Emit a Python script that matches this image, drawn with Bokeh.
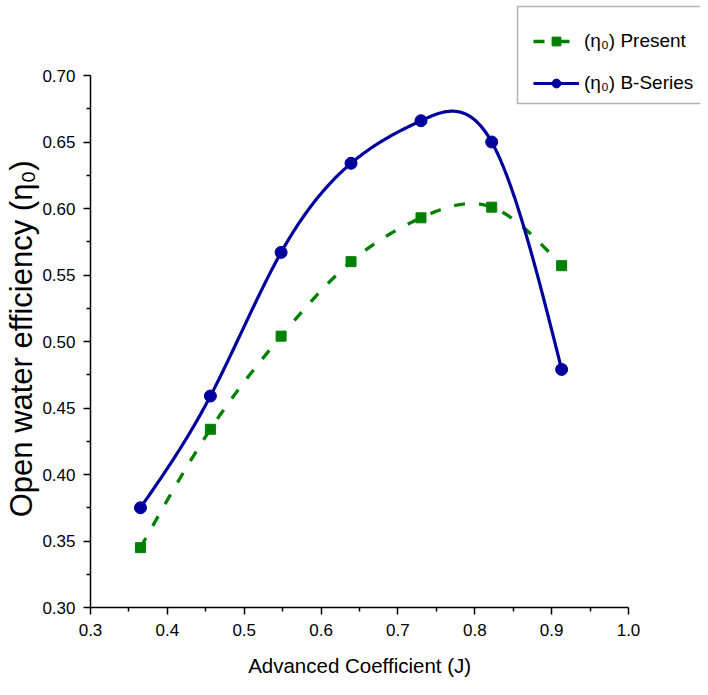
import numpy as np
from bokeh.plotting import figure
from bokeh.models import Legend, LegendItem, FixedTicker, NumeralTickFormatter, Range1d, BoxAnnotation
from bokeh.embed import file_html
from bokeh.resources import INLINE

# data
J = [0.365, 0.456, 0.548, 0.639, 0.730, 0.822, 0.913]
eta_present = [0.345, 0.434, 0.504, 0.560, 0.593, 0.601, 0.557]
eta_bseries = [0.375, 0.459, 0.567, 0.634, 0.666, 0.650, 0.479]
x_ticks = [0.3, 0.4, 0.5, 0.6, 0.7, 0.8, 0.9, 1.0]
x_minor = [0.35, 0.45, 0.55, 0.65, 0.75, 0.85, 0.95]
y_ticks = [0.30, 0.35, 0.40, 0.45, 0.50, 0.55, 0.60, 0.65, 0.70]
y_minor = [0.325, 0.375, 0.425, 0.475, 0.525, 0.575, 0.625, 0.675]

FONT = "Liberation Sans"
GREEN = "#008000"
BLUE = "#00009c"


def natural_spline(x, y, n=300):
    x = np.asarray(x, float); y = np.asarray(y, float)
    k = len(x); h = np.diff(x)
    A = np.zeros((k, k)); b = np.zeros(k)
    A[0, 0] = A[-1, -1] = 1
    for i in range(1, k - 1):
        A[i, i - 1] = h[i - 1]; A[i, i] = 2 * (h[i - 1] + h[i]); A[i, i + 1] = h[i]
        b[i] = 3 * ((y[i + 1] - y[i]) / h[i] - (y[i] - y[i - 1]) / h[i - 1])
    c = np.linalg.solve(A, b)
    xs = np.linspace(x[0], x[-1], n); ys = np.empty_like(xs)
    for j, t in enumerate(xs):
        i = min(np.searchsorted(x, t, side="right") - 1, k - 2)
        d = t - x[i]
        bb = (y[i + 1] - y[i]) / h[i] - h[i] * (2 * c[i] + c[i + 1]) / 3
        dd = (c[i + 1] - c[i]) / (3 * h[i])
        ys[j] = y[i] + bb * d + c[i] * d * d + dd * d ** 3
    return xs, ys


W, H = 700, 690
LEFT, BOTTOM, TOP70 = 90, 83, 75
px_x = 538 / 0.7
px_y = 532 / 0.4
x_end = 0.3 + (W - LEFT) / px_x
y_end = 0.70 + TOP70 / px_y


def sx(px):   # pixel column -> data x (layout helper)
    return 0.3 + (px - LEFT) / px_x


def sy(py):   # pixel row -> data y (layout helper)
    return 0.70 + (TOP70 - py) / px_y


p = figure(width=W, height=H, output_backend="svg", toolbar_location=None,
           x_range=Range1d(0.3, x_end), y_range=Range1d(0.30, y_end),
           min_border_left=LEFT, min_border_right=0, min_border_top=0, min_border_bottom=BOTTOM)
p.xgrid.visible = False
p.ygrid.visible = False
p.outline_line_color = None
p.background_fill_color = "white"

xs, ys = natural_spline(J, eta_present)
l1 = p.line(xs, ys, line_color=GREEN, line_width=3.3, line_dash="11 14")
s1 = p.scatter(J, eta_present, marker="square", size=10, color=GREEN)
xs2, ys2 = natural_spline(J, eta_bseries)
l2 = p.line(xs2, ys2, line_color=BLUE, line_width=3.2)
s2 = p.scatter(J, eta_bseries, marker="circle", size=12, color=BLUE)

p.xaxis[0].ticker = FixedTicker(ticks=x_ticks, minor_ticks=x_minor)
p.yaxis[0].ticker = FixedTicker(ticks=y_ticks, minor_ticks=y_minor)
p.xaxis[0].bounds = (0.3, 1.0)
p.yaxis[0].bounds = (0.30, 0.70)
for ax in (p.xaxis[0], p.yaxis[0]):
    ax.axis_line_width = 1.5
    ax.major_tick_line_width = 1.5
    ax.minor_tick_line_width = 1.5
    ax.major_tick_out = 7
    ax.major_tick_in = 0
    ax.minor_tick_out = 4
    ax.minor_tick_in = 0
    ax.major_label_text_font = FONT
    ax.major_label_text_font_size = "17px"
    ax.major_label_text_color = "black"
    ax.axis_label_text_font = FONT
    ax.axis_label_text_font_style = "normal"
    ax.axis_label_text_color = "black"
    ax.major_label_standoff = 8

p.xaxis[0].major_label_standoff = 9
p.xaxis[0].axis_label_text_font_size = "20.5px"
p.yaxis[0].axis_label_text_font_size = "31px"
p.xaxis[0].formatter = NumeralTickFormatter(format="0.0")
p.yaxis[0].formatter = NumeralTickFormatter(format="0.00")
# trailing wide spaces re-centre the labels on the axes box instead of the (taller/wider) frame
p.xaxis[0].axis_label = "Advanced Coefficient (J)\u2003\u2003\u2003\u2002"
p.yaxis[0].axis_label = "Open water efficiency (η₀)\u2003\u2003\u2005"
p.xaxis[0].axis_label_standoff = 15
p.yaxis[0].axis_label_standoff = 0

# legend frame
p.add_layout(BoxAnnotation(left=sx(517), right=sx(720), top=sy(6), bottom=sy(103),
                           fill_color=None, line_color="black", line_width=1.5))

legend = Legend(items=[LegendItem(label="(η₀) Present", renderers=[l1, s1]),
                       LegendItem(label="(η₀) B-Series", renderers=[l2, s2])],
                location=(533 - LEFT, 607 - 94))
legend.label_text_font = FONT
legend.label_text_font_size = "19px"
legend.label_text_color = "black"
legend.border_line_color = None
legend.background_fill_alpha = 0
legend.glyph_width = 46
legend.glyph_height = 22
legend.label_height = 22
legend.label_standoff = 5
legend.padding = 0
legend.spacing = 20
legend.margin = 0
p.add_layout(legend, "center")

open("out.html", "w").write(file_html(p, INLINE))
